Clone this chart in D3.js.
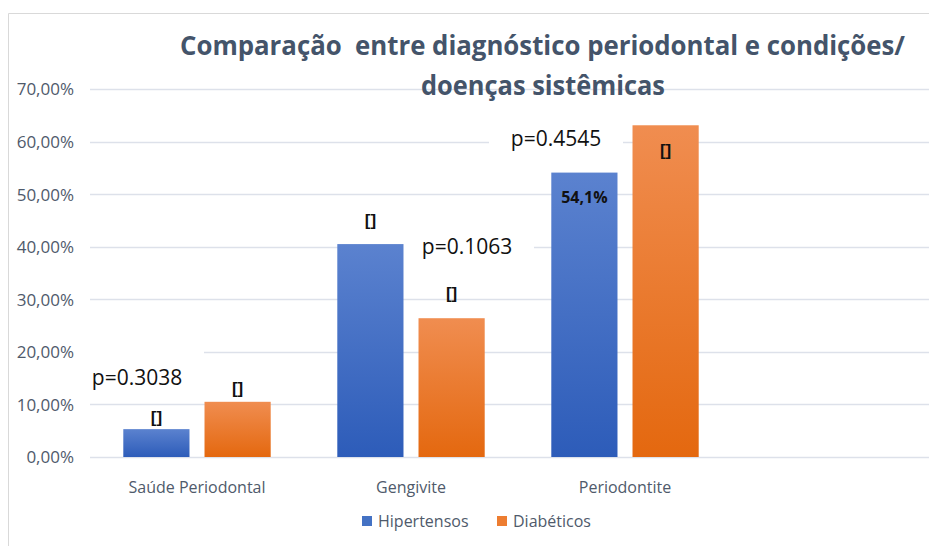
<!DOCTYPE html>
<html>
<head>
<meta charset="utf-8">
<script src="https://cdn.jsdelivr.net/npm/d3@7"></script>
<style>
  body { margin: 0; background: #fff; }
  svg text { font-family: "Open Sans", "DejaVu Sans", sans-serif; }
</style>
</head>
<body>
<div id="chart"></div>
<script>
// data
var categories = ["Saúde Periodontal", "Gengivite", "Periodontite"];
var seriesNames = ["Hipertensos", "Diabéticos"];
var hipertensos = [0.053, 0.405, 0.541];
var diabeticos = [0.105, 0.264, 0.631];
var barLabels = [["[]", "[]"], ["[]", "[]"], ["54,1%", "[]"]];
var pValues = ["p=0.3038", "p=0.1063", "p=0.4545"];
var pLevels = [0.150, 0.401, 0.606];
var yTicks = [0, 0.1, 0.2, 0.3, 0.4, 0.5, 0.6, 0.7];
var titleLines = ["Comparação  entre diagnóstico periodontal e condições/", "doenças sistêmicas"];

// label placement (px relative to bar top, negative = above)
var labelDy = [[-12, -14], [-24, -25], [25, 25]];
// p label x offset from category centre
var pDx = [-60, 56, -69];

var width = 929, height = 546;
var margin = {left: 90};
var colors = {blue: ["#5b82cf", "#2d5cb9"], orange: ["#f08d50", "#e4680f"]};

var svg = d3.select('#chart').append('svg')
    .attr('width', width)
    .attr('height', height);

// frame
svg.append('path')
    .attr('d', 'M8.5,' + height + 'V13.5H' + width)
    .attr('fill', 'none')
    .attr('stroke', '#d9d9d9');

var defs = svg.append('defs');
[['gBlue', colors.blue], ['gOrange', colors.orange]].forEach(function (g) {
    var lg = defs.append('linearGradient').attr('id', g[0])
        .attr('x1', 0).attr('y1', 0).attr('x2', 0).attr('y2', 1);
    lg.append('stop').attr('offset', '0%').attr('stop-color', g[1][0]);
    lg.append('stop').attr('offset', '100%').attr('stop-color', g[1][1]);
});

var x = d3.scaleBand()
    .domain(categories)
    .range([margin.left, margin.left + 642]);

var xs = d3.scaleBand()
    .domain(seriesNames)
    .range([0, x.bandwidth()])
    .paddingInner(0.185)
    .paddingOuter(0.41);

var y = d3.scaleLinear()
    .domain([0, 0.7])
    .range([457, 89]);

// grid
svg.append('g')
    .selectAll('line')
    .data(yTicks)
    .enter().append('line')
    .attr('x1', margin.left)
    .attr('x2', width)
    .attr('y1', function (d) { return Math.round(y(d)) + 0.5; })
    .attr('y2', function (d) { return Math.round(y(d)) + 0.5; })
    .attr('stroke', '#dde1ea')
    .attr('stroke-width', 1.5);

function pX(i) {
    return x(categories[i]) + x.bandwidth() / 2 + pDx[i];
}

// white boxes behind p-values (cover gridlines, not bars)
svg.append('g').selectAll('rect')
    .data(pValues)
    .enter().append('rect')
    .attr('x', function (d, i) { return pX(i) - 67; })
    .attr('y', function (d, i) { return y(pLevels[i]) - 30; })
    .attr('width', 134)
    .attr('height', 52)
    .attr('fill', '#fff');

// y axis labels
var yAxis = svg.append('g')
    .attr('transform', 'translate(74,0)')
    .call(d3.axisLeft(y).tickValues(yTicks).tickSize(0).tickPadding(0)
        .tickFormat(function (d) { return (d * 100).toFixed(2).replace('.', ',') + '%'; }));
yAxis.select('.domain').remove();
yAxis.selectAll('text')
    .attr('fill', '#4f5a6b')
    .style('font-size', '17px')
    .attr('dy', '0.35em');

// bars
var rows = categories.map(function (c, i) {
    return [
        {cat: c, s: seriesNames[0], v: hipertensos[i], fill: 'url(#gBlue)', label: barLabels[i][0], dy: labelDy[i][0]},
        {cat: c, s: seriesNames[1], v: diabeticos[i], fill: 'url(#gOrange)', label: barLabels[i][1], dy: labelDy[i][1]}
    ];
});

var groups = svg.append('g').selectAll('g')
    .data(rows)
    .enter().append('g')
    .attr('transform', function (d) { return 'translate(' + x(d[0].cat) + ',0)'; });

groups.selectAll('rect')
    .data(function (d) { return d; })
    .enter().append('rect')
    .attr('x', function (d) { return xs(d.s); })
    .attr('width', xs.bandwidth())
    .attr('y', function (d) { return y(d.v); })
    .attr('height', function (d) { return y(0) - y(d.v); })
    .attr('fill', function (d) { return d.fill; });

groups.selectAll('text')
    .data(function (d) { return d; })
    .enter().append('text')
    .attr('x', function (d) { return xs(d.s) + xs.bandwidth() / 2; })
    .attr('y', function (d) { return y(d.v) + d.dy; })
    .attr('dy', '0.35em')
    .attr('text-anchor', 'middle')
    .style('font-family', function (d) { return d.label === '[]' ? '"Liberation Sans", sans-serif' : null; })
    .style('font-size', function (d) { return d.label === '[]' ? '17px' : '16px'; })
    .style('font-weight', 'bold')
    .attr('fill', '#111')
    .text(function (d) { return d.label; });

// p-values
svg.append('g').selectAll('text')
    .data(pValues)
    .enter().append('text')
    .attr('x', function (d, i) { return pX(i); })
    .attr('y', function (d, i) { return y(pLevels[i]); })
    .attr('dy', '0.35em')
    .attr('text-anchor', 'middle')
    .style('font-size', '21px')
    .attr('fill', '#111')
    .text(function (d) { return d; });

// x axis labels
var xAxis = svg.append('g')
    .attr('transform', 'translate(0,' + 487 + ')')
    .call(d3.axisBottom(x).tickSize(0).tickPadding(0));
xAxis.select('.domain').remove();
xAxis.selectAll('text')
    .attr('fill', '#4f5a6b')
    .attr('dy', '0.35em')
    .style('font-size', '16px');

// title
svg.append('g').selectAll('text')
    .data(titleLines)
    .enter().append('text')
    .attr('x', function (d, i) { return i === 0 ? 180 : 421; })
    .attr('y', function (d, i) { return i === 0 ? 55 : 95; })
    .attr('textLength', function (d, i) { return i === 0 ? 725 : 244; })
    .attr('lengthAdjust', 'spacingAndGlyphs')
    .style('white-space', 'pre')
    .style('font-size', '26px')
    .style('font-weight', 'bold')
    .attr('fill', '#44546a')
    .text(function (d) { return d; });

// legend
var legend = svg.append('g').attr('transform', 'translate(362,521)');
var legendItems = [
    {name: seriesNames[0], color: '#4472c4', x: 0},
    {name: seriesNames[1], color: '#ed7d31', x: 135}
];
legendItems.forEach(function (d) {
    legend.append('rect')
        .attr('x', d.x).attr('y', -5)
        .attr('width', 10).attr('height', 10)
        .attr('fill', d.color);
    legend.append('text')
        .attr('x', d.x + 16).attr('y', 0)
        .attr('dy', '0.35em')
        .style('font-size', '16px')
        .attr('fill', '#4f5a6b')
        .text(d.name);
});
</script>
</body>
</html>
